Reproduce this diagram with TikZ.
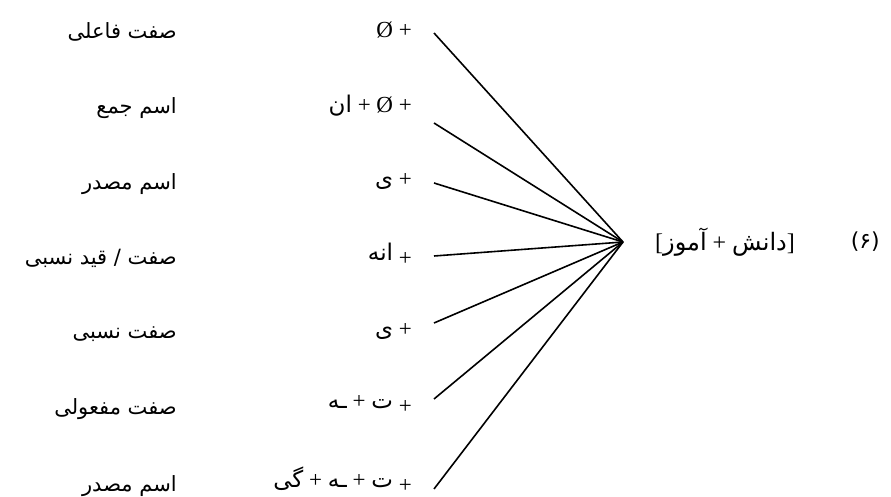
\documentclass[tikz,border=0pt]{standalone}
\usepackage{fontspec}
\setmainfont{Liberation Serif}
\newfontfamily\arabicfont[Script=Arabic]{DejaVu Sans}
\TeXXeTstate=1
\newcommand{\fatext}[1]{{\arabicfont\beginR #1\endR}}
\newcommand{\lowplus}{\raisebox{-5pt}{+}}
\begin{document}
\begin{tikzpicture}[x=1pt,y=-1pt,
  lbl/.style={anchor=east,inner sep=0pt,font=\fontsize{21}{24}\selectfont},
  morph/.style={anchor=east,inner sep=0pt,font=\fontsize{23}{26}\selectfont},
  link/.style={line width=1.6pt}]
\useasboundingbox (0,0) rectangle (891,497);
% labels (right-hand column in reading order)
\node[lbl] (l1) at (177,32)  {\fatext{صفت فاعلی}};
\node[lbl] (l2) at (177,108) {\fatext{اسم جمع}};
\node[lbl] (l3) at (177,184) {\fatext{اسم مصدر}};
\node[lbl] (l4) at (177,258) {\fatext{صفت / قید نسبی}};
\node[lbl] (l5) at (177,334) {\fatext{صفت  نسبی}};
\node[lbl] (l6) at (177,409) {\fatext{صفت مفعولی}};
\node[lbl] (l7) at (177,486) {\fatext{اسم مصدر}};
% morphemes
\node[morph] (m1) at (412,30)  {Ø +};
\node[morph] (m2) at (412,106) {\fatext{ان} + Ø +};
\node[morph] (m3) at (412,182) {\fatext{ی} +};
\node[morph] (m4) at (412,254) {\fatext{انه} \lowplus};
\node[morph] (m5) at (412,332) {\fatext{ی} +};
\node[morph] (m6) at (412,405) {\fatext{ـه} + \fatext{ت} \lowplus};
\node[morph] (m7) at (412,480) {\fatext{گی} + \fatext{ـه} + \fatext{ت} \lowplus};
% base and example number
\node[anchor=west,inner sep=0pt,font=\fontsize{24}{28}\selectfont] (base) at (655,242)
  {[\fatext{آموز} + \fatext{دانش}]};
\node[anchor=east,inner sep=0pt,font=\fontsize{22}{26}\selectfont] (num) at (880,242)
  {{\arabicfont (۶)}};
% connector ends
\coordinate (hub) at (623,242);
\coordinate (e1) at (434,33);
\coordinate (e2) at (434,123);
\coordinate (e3) at (434,183);
\coordinate (e4) at (434,256);
\coordinate (e5) at (434,323);
\coordinate (e6) at (434,399);
\coordinate (e7) at (434,489);
\foreach \i in {1,...,7} \draw[link] (e\i) -- (hub);
\end{tikzpicture}
\end{document}
